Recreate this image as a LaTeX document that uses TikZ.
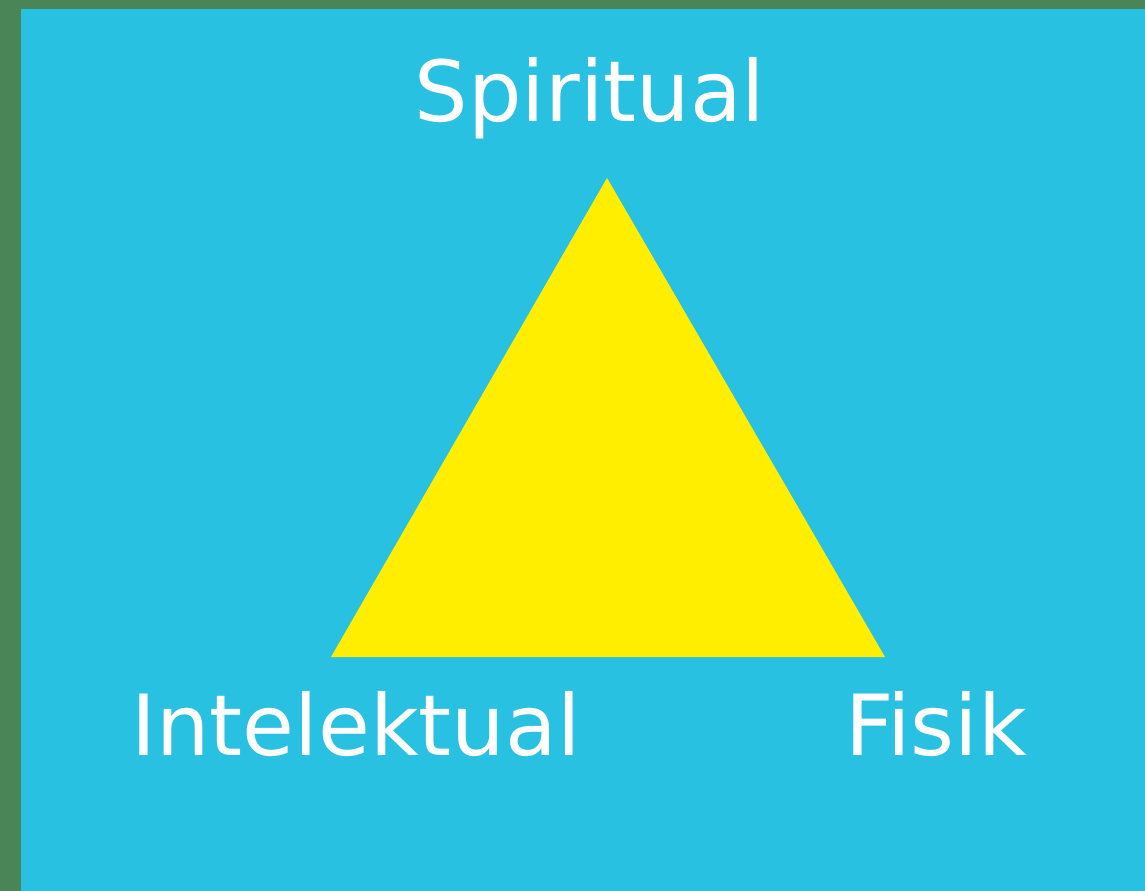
\documentclass[tikz,border=0pt]{standalone}
\usepackage{xcolor}
\usepackage{fontspec}
\setmainfont{DejaVu Sans}
\definecolor{framegreen}{HTML}{4A8558}
\definecolor{skycyan}{HTML}{29C1E1}
\definecolor{sunyellow}{HTML}{FFEE00}

\begin{document}
\begin{tikzpicture}[x=0.02cm, y=-0.02cm]
        \tikzstyle{label} = [text=white, font=\fontsize{48}{56}\selectfont, inner sep=0pt, anchor=base]

        % frame and background
        \fill[framegreen] (0,0) rectangle (1145,891);
        \fill[skycyan] (21,9) rectangle (1145,891);
        \useasboundingbox (0,0) rectangle (1145,891);

        % triangle
        \coordinate (top) at (607,178);
        \coordinate (left) at (331,657);
        \coordinate (right) at (885,657);
        \fill[sunyellow] (top) -- (left) -- (right) -- cycle;

        \node (spiritual) [label] at (590,122) {Spiritual};
        \node (intelektual) [label] at (356,755) {Intelektual};
        \node (fisik) [label] at (936,755) {Fisik};
    \end{tikzpicture}
\end{document}
